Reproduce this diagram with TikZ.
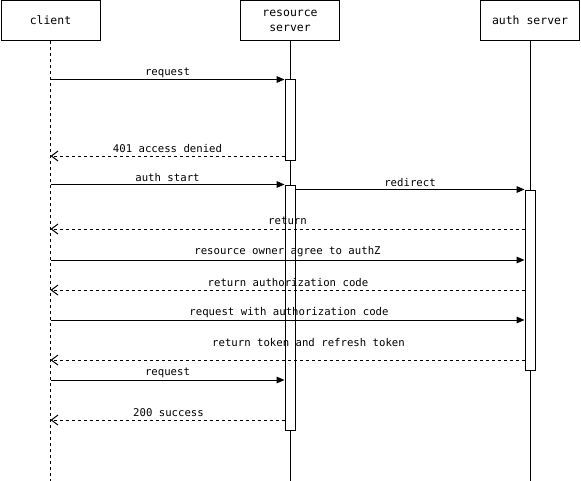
\documentclass[tikz,border=0pt]{standalone}
\usepackage{fontspec}
\setmonofont{DejaVu Sans Mono}
\usetikzlibrary{arrows.meta}

\tikzset{
	actor/.style={draw, fill=white, minimum width=74.25pt, minimum height=30pt, inner sep=0pt, align=center, font=\ttfamily\fontsize{8.6}{11.25}\selectfont},
	actbar/.style={draw, fill=white, minimum width=7.5pt, inner sep=0pt},
	lbl/.style={font=\ttfamily\fontsize{8}{9}\selectfont, inner sep=0pt},
	call/.style={-{Triangle[length=6pt,width=5pt]}},
	reply/.style={dash pattern=on 2.25pt off 2.25pt, -{Straight Barb[length=5pt,width=7.5pt]}},
}

\begin{document}
\begin{tikzpicture}[x=0.75pt, y=-0.75pt, line width=0.75pt]
	\useasboundingbox (0,0) rectangle (581,481);
	\coordinate (bottom) at (0,481);
	
	%participants
	\node[actor] (client) at (50.5,20.5) {client};
	\node[actor] (res) at (290,20.5) {resource\\server};
	\node[actor] (auth) at (530,20.5) {auth server};
	
	%lifelines
	\draw[dash pattern=on 2.25pt off 2.25pt] (client.south) -- (client.south |- bottom);
	\draw (res.south) -- (res.south |- bottom);
	\draw (auth.south) -- (auth.south |- bottom);
	
	%activation bars
	\node[actbar, minimum height=60pt] (act1) at (290,120) {};
	\node[actbar, minimum height=183.75pt] (act2) at (290,307.5) {};
	\node[actbar, minimum height=135pt] (act3) at (530,280) {};
	
	%labels
	\node[lbl] (l1) at (167.5,72.5) {request};
	\node[lbl] (l2) at (167.5,148.5) {401 access denied};
	\node[lbl] (l3) at (167.5,177.5) {auth start};
	\node[lbl] (l4) at (410,182.5) {redirect};
	\node[lbl] (l5) at (287.5,220.5) {return};
	\node[lbl] (l6) at (287.5,251.5) {resource owner agree to authZ};
	\node[lbl] (l7) at (288,282.5) {return authorization code};
	\node[lbl] (l8) at (289,312.5) {request with authorization code};
	\node[lbl] (l9) at (308.5,342.5) {return token and refresh token};
	\node[lbl] (l10) at (167.5,372.5) {request};
	\node[lbl] (l11) at (168.5,412.5) {200 success};
	
	%messages
	\draw[call] (client |- act1.north) -- (act1.north west);
	\draw[reply] (act1.west |- 0,156) -- (client |- 0,156);
	\draw[call] (client |- act2.north) -- (act2.north west);
	\draw[call] (act2.east |- act3.north) -- (act3.north west);
	\draw[reply] (act3.west |- 0,229) -- (client |- 0,229);
	\draw[call] (client |- 0,260) -- (act3.west |- 0,260);
	\draw[reply] (act3.west |- 0,290) -- (client |- 0,290);
	\draw[call] (client |- 0,320) -- (act3.west |- 0,320);
	\draw[reply] (act3.west |- 0,360) -- (client |- 0,360);
	\draw[call] (client |- 0,380) -- (act2.west |- 0,380);
	\draw[reply] (act2.west |- 0,420) -- (client |- 0,420);
\end{tikzpicture}
\end{document}
